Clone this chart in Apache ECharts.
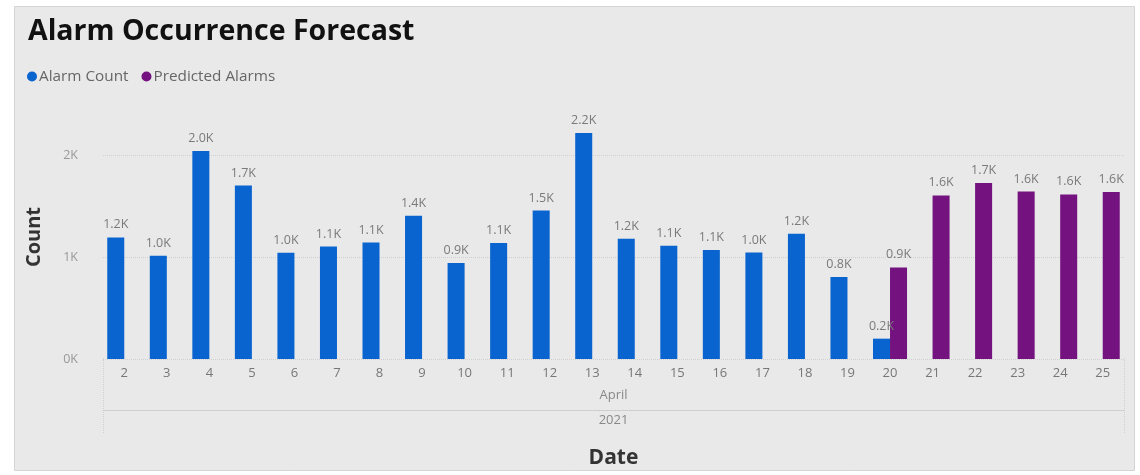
<!DOCTYPE html>
<html><head><meta charset="utf-8">
<script src="https://cdn.jsdelivr.net/npm/echarts@6/dist/echarts.min.js"></script>
<style>html,body{margin:0;padding:0;background:#fff}#c{width:1140px;height:475px}</style>
</head><body><div id="c"></div>
<script>
const days = ['2','3','4','5','6','7','8','9','10','11','12','13','14','15','16','17','18','19','20','21','22','23','24','25'];
const alarmCount = [1196,1016,2045,1707,1045,1107,1145,1409,944,1140,1461,2222,1183,1114,1072,1048,1232,806,200,null,null,null,null,null];
const predictedAlarms = [null,null,null,null,null,null,null,null,null,null,null,null,null,null,null,null,null,null,901,1609,1731,1648,1619,1642];
const monthLabels = ['April'];
const yearLabels = ['2021'];

const FONT = 'Open Sans';
const chart = echarts.init(document.getElementById('c'));
const lbl = {
  show: true, position: 'top', distance: 6, color: '#7a7a7a', fontSize: 12.5, fontFamily: FONT,
  formatter: p => (p.value == null ? '' : (p.value / 1000).toFixed(1) + 'K')
};
chart.setOption({
  backgroundColor: '#ffffff',
  animation: false,
  graphic: [{
    type: 'rect', z: -10, silent: true,
    shape: { x: 14.5, y: 6.5, width: 1120, height: 464 },
    style: { fill: '#e9e9e9', stroke: '#d4d4d4', lineWidth: 1 }
  }],
  title: {
    text: 'Alarm Occurrence Forecast', left: 23, top: 12,
    textStyle: { fontFamily: FONT, fontWeight: 'bold', fontSize: 28.5, color: '#111' }
  },
  legend: {
    left: 22, top: 64, itemWidth: 10, itemHeight: 10, itemGap: 13, icon: 'circle',
    textStyle: { fontFamily: FONT, fontSize: 15.3, color: '#666', padding: [0, 0, 0, -3] }
  },
  grid: { left: 103, right: 16, top: 115, bottom: 116, containLabel: false, outerBoundsMode: 'none' },
  xAxis: [{
    type: 'category', data: days, gridIndex: 0,
    axisLine: { show: false }, axisTick: { show: false },
    axisLabel: { color: '#777', fontSize: 13, fontFamily: FONT, margin: 8 },
    name: 'Date', nameLocation: 'middle', nameGap: 89,
    nameTextStyle: { fontFamily: FONT, fontWeight: 'bold', fontSize: 21, color: '#333' }
  }, {
    type: 'category', data: monthLabels, position: 'bottom', offset: 28,
    axisLine: { show: false }, axisTick: { show: false },
    axisLabel: { color: '#888', fontSize: 13, fontFamily: FONT, margin: 2 }
  }, {
    type: 'category', data: yearLabels, position: 'bottom', offset: 51,
    axisLine: { show: true, lineStyle: { color: '#c8c8c8', type: 'dotted', width: 1 } },
    axisTick: { show: false },
    axisLabel: { color: '#888', fontSize: 13, fontFamily: FONT, margin: 4 }
  }, {
    type: 'category', data: yearLabels, position: 'bottom', offset: 74,
    axisLine: { show: false },
    axisTick: { show: true, inside: true, length: 75, lineStyle: { color: '#d0d0d0', type: 'dotted', width: 1 } },
    axisLabel: { show: false }
  }],
  yAxis: {
    type: 'value', min: 0, max: 2400, interval: 1000,
    axisLine: { show: false }, axisTick: { show: false },
    axisLabel: {
      color: '#999', fontSize: 12.5, fontFamily: FONT, margin: 25, showMaxLabel: false,
      formatter: v => (v % 1000 === 0 ? (v / 1000) + 'K' : '')
    },
    splitLine: { show: true, showMaxLine: false, lineStyle: { color: '#d0d0d0', type: 'dotted', width: 1 } },
    name: 'Count', nameLocation: 'middle', nameGap: 59, nameRotate: 90,
    nameTextStyle: { fontFamily: FONT, fontWeight: 'bold', fontSize: 20, color: '#333' }
  },
  series: [{
    name: 'Alarm Count', type: 'bar', data: alarmCount, xAxisIndex: 0,
    barGap: '0%', barCategoryGap: '20%',
    itemStyle: { color: '#0a64cf' }, label: lbl
  }, {
    name: 'Predicted Alarms', type: 'bar', data: predictedAlarms, xAxisIndex: 0,
    barGap: '0%', barCategoryGap: '20%',
    itemStyle: { color: '#74127f' }, label: lbl
  }]
});
</script></body></html>
